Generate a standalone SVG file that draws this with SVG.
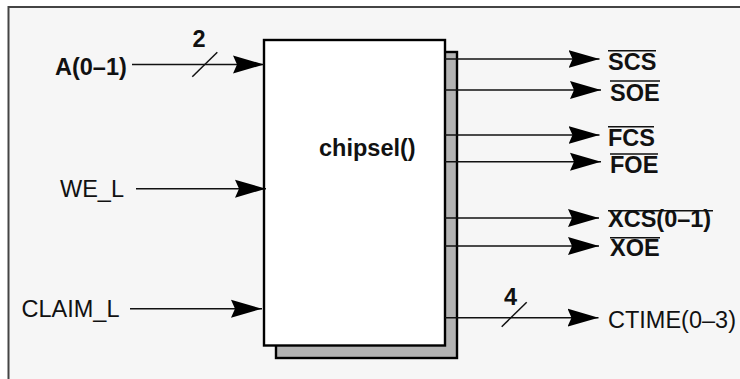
<svg xmlns="http://www.w3.org/2000/svg" width="740" height="379" viewBox="0 0 740 379">
<defs>
<style>
.t{font-family:"Liberation Sans",Arial,sans-serif;font-size:23.5px;fill:#111}
.b{font-weight:bold}
.w{stroke:#111;stroke-width:1.5;fill:none}
.ol{stroke:#111;stroke-width:1.6}
</style>
<marker id="ah" markerUnits="userSpaceOnUse" markerWidth="34" markerHeight="20" refX="31" refY="9.5" orient="auto" viewBox="0 0 34 20">
<path d="M31,9.5 L0,0.5 L4,9.5 L0,18.5 Z" fill="#000"/>
</marker>
</defs>
<rect x="0" y="0" width="740" height="379" fill="#fff"/>
<rect x="8.5" y="7" width="740" height="380" fill="#f6f6f6" stroke="#444" stroke-width="2"/>

<g id="chipsel">
<rect x="276" y="52" width="181" height="306" fill="#b3b3b3" stroke="#000" stroke-width="2.4"/>
<rect x="264" y="40" width="181" height="305.5" fill="#fff" stroke="#000" stroke-width="2.4"/>
<text class="t b" x="319" y="156">chipsel()</text>
</g>

<g id="connectors">
<line class="w" x1="132" y1="64.5" x2="264" y2="64.5" marker-end="url(#ah)"/>
<line class="w" x1="192.3" y1="76.7" x2="217.3" y2="52.3"/>
<line class="w" x1="136" y1="188.7" x2="266" y2="188.7" marker-end="url(#ah)"/>
<line class="w" x1="130" y1="308.7" x2="262" y2="308.7" marker-end="url(#ah)"/>
<line class="w" x1="445" y1="59" x2="599.5" y2="59" marker-end="url(#ah)"/>
<line class="w" x1="445" y1="90" x2="601" y2="90" marker-end="url(#ah)"/>
<line class="w" x1="445" y1="135" x2="599.5" y2="135" marker-end="url(#ah)"/>
<line class="w" x1="445" y1="161.7" x2="601" y2="161.7" marker-end="url(#ah)"/>
<line class="w" x1="445" y1="218" x2="599" y2="218" marker-end="url(#ah)"/>
<line class="w" x1="445" y1="246" x2="599" y2="246" marker-end="url(#ah)"/>
<line class="w" x1="445" y1="317.7" x2="598.5" y2="317.7" marker-end="url(#ah)"/>
<line class="w" x1="501.7" y1="326.7" x2="526.7" y2="302.3"/>
</g>

<g id="in-a">
<text class="t b" x="55" y="75">A(0–1)</text>
<text class="t b" x="192.5" y="47.3">2</text>
</g>
<g id="in-we">
<text class="t" x="60" y="196.7">WE_L</text>
</g>
<g id="in-claim">
<text class="t" x="21.5" y="316.7">CLAIM_L</text>
</g>

<g id="out-scs">
<line class="ol" x1="608" y1="50.7" x2="656" y2="50.7"/>
<text class="t b" x="608" y="69.5">SCS</text>
</g>
<g id="out-soe">
<line class="ol" x1="610" y1="81" x2="660" y2="81"/>
<text class="t b" x="610" y="100.5">SOE</text>
</g>
<g id="out-fcs">
<line class="ol" x1="608" y1="126.7" x2="654" y2="126.7"/>
<text class="t b" x="608" y="146">FCS</text>
</g>
<g id="out-foe">
<line class="ol" x1="610" y1="154" x2="658" y2="154"/>
<text class="t b" x="610" y="173">FOE</text>
</g>
<g id="out-xcs">
<line class="ol" x1="608" y1="210.7" x2="713" y2="210.7"/>
<text class="t b" x="608" y="227">XCS(0–1)</text>
</g>
<g id="out-xoe">
<line class="ol" x1="610" y1="237.7" x2="660" y2="237.7"/>
<text class="t b" x="610" y="255.7">XOE</text>
</g>
<g id="out-ctime">
<text class="t b" x="504" y="305">4</text>
<text class="t" x="608" y="328.3">CTIME(0–3)</text>
</g>
</svg>
